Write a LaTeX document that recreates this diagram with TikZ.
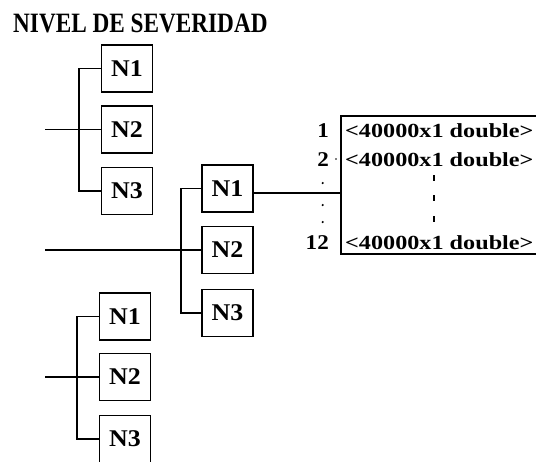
\documentclass[tikz,border=0pt]{standalone}
\usepackage{fontspec}
\setmainfont{Liberation Serif}
\usepackage{graphicx}
\tikzset{
  nbox/.style={draw, line width=1.8pt, minimum width=51pt, minimum height=47pt, inner sep=0pt,
    font=\fontsize{24}{24}\selectfont\bfseries},
  link/.style={line width=1.8pt},
  rowtxt/.style={anchor=base west, inner sep=0pt, font=\fontsize{20}{20}\selectfont\bfseries},
  idx/.style={anchor=base east, inner sep=0pt, font=\fontsize{21}{21}\selectfont\bfseries},
}
\newcommand{\nlab}[1]{\scalebox{1.08}[1]{#1}}
\begin{document}
\begin{tikzpicture}[x=1pt,y=-1pt]
\useasboundingbox (0,0) rectangle (536,461);
\clip (0,0) rectangle (536,461);
% title
\node[anchor=base west, inner sep=0pt, font=\fontsize{28}{28}\selectfont\bfseries] (title) at (13,32)
  {\scalebox{0.83}[1]{NIVEL DE SEVERIDAD}};
% top group
\node[nbox] (t1) at (127,68.5) {\nlab{N1}};
\node[nbox] (t2) at (127,129.5) {\nlab{N2}};
\node[nbox] (t3) at (127,191) {\nlab{N3}};
\coordinate (ts) at (45,129.5);
\draw[link] (t1.west) -- ++(-21.5,0) |- (t3.west);
\draw[link] (ts) -- (t2.west);
% middle group
\node[nbox] (m1) at (227.5,188.5) {\nlab{N1}};
\node[nbox] (m2) at (227.5,250) {\nlab{N2}};
\node[nbox] (m3) at (227.5,313) {\nlab{N3}};
\coordinate (ms) at (45,250);
\draw[link] (m1.west) -- ++(-20,0) |- (m3.west);
\draw[link] (ms) -- (m2.west);
% bottom group
\node[nbox] (b1) at (125,316.5) {\nlab{N1}};
\node[nbox] (b2) at (125,377) {\nlab{N2}};
\node[nbox] (b3) at (125,439) {\nlab{N3}};
\coordinate (bs) at (45,377);
\draw[link] (b1.west) -- ++(-21.5,0) |- (b3.west);
\draw[link] (bs) -- (b2.west);
% table
\node[draw, line width=1.8pt, anchor=north west, minimum width=230pt, minimum height=138pt, inner sep=0pt] (tbl) at (340,115) {};
\draw[link] ([yshift=-4.2pt]m1.east) -- ([yshift=-4.2pt]m1.east -| tbl.west);
\node[rowtxt] (r1) at (345,137) {\scalebox{1.21}[1]{<40000x1 double>}};
\node[rowtxt] (r2) at (345,166) {\scalebox{1.21}[1]{<40000x1 double>}};
\node[rowtxt] (r12) at (345,249) {\scalebox{1.21}[1]{<40000x1 double>}};
\node[idx] (i1) at (329,137) {\scalebox{1.1}[1]{1}};
\node[idx] (i2) at (329,166) {\scalebox{1.1}[1]{2}};
\node[idx] (i12) at (329,249) {\scalebox{1.1}[1]{12}};
% dots
\fill (336,159) circle (0.8);
\foreach \yy in {183,205,222} \fill (322.7,\yy) circle (1.2);
\foreach \yy in {178,198,219} \draw[line width=2pt] (434,\yy-3) -- (434,\yy+3);
\end{tikzpicture}
\end{document}
